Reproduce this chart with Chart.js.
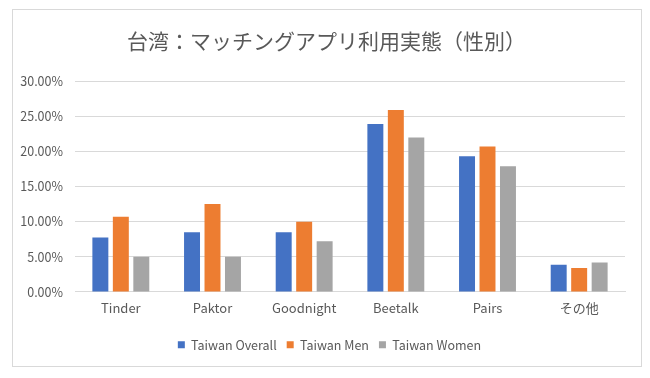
<!doctype html>
<html lang="ja">
<head>
  <meta charset="utf-8">
  <title>台湾：マッチングアプリ利用実態（性別）</title>
  <style>
    html, body { margin: 0; padding: 0; background: #fff; }
    #wrap { position: relative; width: 650px; height: 378px; }
    #frame {
      position: absolute; left: 12px; top: 9px; width: 628px; height: 356px;
      border: 1px solid #d9d9d9; pointer-events: none;
    }
  </style>
</head>
<body>
  <div id="wrap">
    <div id="frame"></div>
    <canvas id="myChart" width="650" height="378"></canvas>
  </div>

  <script src="https://cdn.jsdelivr.net/npm/chart.js@4/dist/chart.umd.min.js"></script>
  <script>
  // values, in percent
  const apps = ['Tinder', 'Paktor', 'Goodnight', 'Beetalk', 'Pairs', 'その他'];
  const overall = [7.75, 8.5, 8.5, 23.9, 19.3, 3.85];
  const men = [10.7, 12.5, 10.0, 25.9, 20.7, 3.4];
  const women = [5.0, 5.0, 7.2, 22.0, 17.9, 4.2];
  const seriesNames = ['Taiwan Overall', 'Taiwan Men', 'Taiwan Women'];
  const colors = ['#4472C4', '#ED7D31', '#A5A5A5'];

  const textColor = '#595959';
  const fontFamily = '"Noto Sans CJK JP", "Noto Sans", sans-serif';

  // title and legend in the original sit a little right of centre
  const nudgeBoxes = {
    id: 'nudgeBoxes',
    afterLayout(chart) {
      if (chart.legend) {
        chart.legend.left += 11;
        chart.legend.right += 11;
      }
      if (chart.titleBlock) {
        chart.titleBlock.left += 8;
        chart.titleBlock.right += 8;
      }
    }
  };

  const ctx = document.getElementById('myChart').getContext('2d');
  const chart = new Chart(ctx, {
    type: 'bar',
    data: {
      labels: apps,
      datasets: [overall, men, women].map((vals, i) => ({
        label: seriesNames[i],
        data: vals,
        backgroundColor: colors[i],
        borderWidth: 0,
        barPercentage: 0.78,
        categoryPercentage: 0.67,
      })),
    },
    options: {
      responsive: false,
      animation: false,
      layout: { padding: { left: 12, right: 25, top: 28, bottom: 17 } },
      plugins: {
        title: {
          display: true,
          text: '台湾：マッチングアプリ利用実態（性別）',
          color: textColor,
          font: { family: fontFamily, size: 21, weight: 'normal' },
          padding: { top: 0, bottom: 28 },
        },
        legend: {
          position: 'bottom',
          labels: {
            color: textColor,
            font: { family: fontFamily, size: 12.5 },
            boxWidth: 7,
            boxHeight: 7,
            padding: 10,
          },
        },
        tooltip: { enabled: false },
      },
      scales: {
        x: {
          grid: { display: false, drawTicks: false },
          border: { color: '#d9d9d9' },
          ticks: { color: textColor, font: { family: fontFamily, size: 13 }, padding: 8 },
          afterFit: scale => { scale.height += 5; },
        },
        y: {
          min: 0,
          max: 30,
          ticks: {
            stepSize: 5,
            color: textColor,
            font: { family: fontFamily, size: 12.5 },
            padding: 12,
            callback: v => v.toFixed(2) + '%',
          },
          grid: { color: '#d9d9d9', drawTicks: false },
          border: { display: false },
          afterFit: scale => { scale.width = 63; },
        },
      },
    },
    plugins: [nudgeBoxes],
  });
  </script>
</body>
</html>
